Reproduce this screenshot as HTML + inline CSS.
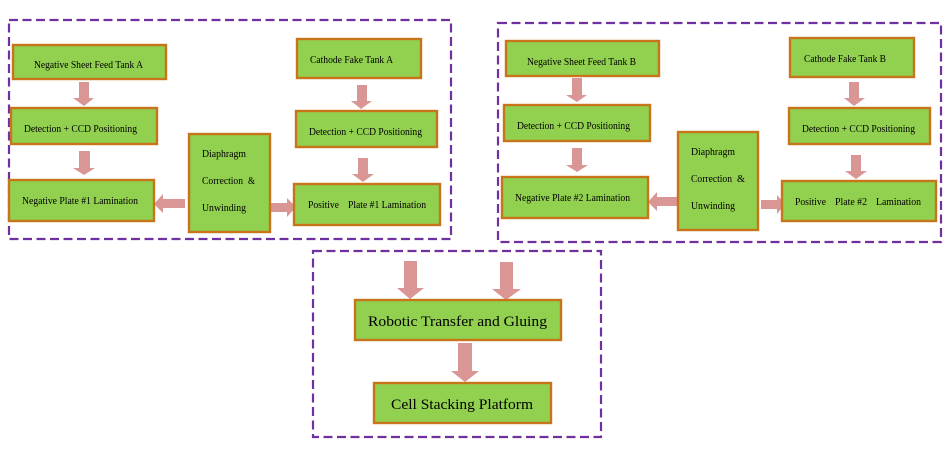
<!DOCTYPE html>
<html>
<head>
<meta charset="utf-8">
<style>
html,body{margin:0;padding:0;background:#fff;width:951px;height:454px;overflow:hidden}
svg{display:block}
text{font-family:"Liberation Serif",serif;font-size:10px;fill:#000}
.l{font-size:15px}
.b{fill:#92D050;stroke:#C8741A;stroke-width:2.4}
.d{fill:none;stroke:#7030A0;stroke-width:2.2;stroke-dasharray:9 4.5}
.a{fill:#D99694}
</style>
</head>
<body>
<svg width="951" height="454" viewBox="0 0 951 454" xmlns="http://www.w3.org/2000/svg">
<rect width="951" height="454" fill="#fff"/>
<!-- dashed groups -->
<rect class="d" x="9" y="20" width="442" height="219"/>
<rect class="d" x="498" y="23" width="443" height="219"/>
<rect class="d" x="313" y="251" width="288" height="186"/>

<!-- arrows group A -->
<polygon class="a" points="79,82 89,82 89,98 94,98 84,106 73,98 79,98"/>
<polygon class="a" points="79,151 90,151 90,168 95,168 84,175 73,168 79,168"/>
<polygon class="a" points="154,204 163,194 163,199 185,199 185,208 163,208 163,213"/>
<polygon class="a" points="296,207 287,198 287,203 271,203 271,212 287,212 287,217"/>
<polygon class="a" points="357,85 367,85 367,101 372,101 361,109 351,101 357,101"/>
<polygon class="a" points="358,158 368,158 368,174 374,174 363,182 352,174 358,174"/>

<!-- arrows group B -->
<polygon class="a" points="572,78 582,78 582,95 587,95 577,102 566,95 572,95"/>
<polygon class="a" points="572,148 582,148 582,165 588,165 577,172 566,165 572,165"/>
<polygon class="a" points="648,202 657,192 657,197 678,197 678,206 657,206 657,211"/>
<polygon class="a" points="785,204 777,195 777,200 761,200 761,209 777,209 777,214"/>
<polygon class="a" points="849,82 859,82 859,98 865,98 854,106 844,98 849,98"/>
<polygon class="a" points="851,155 861,155 861,171 867,171 856,179 845,171 851,171"/>

<!-- arrows bottom -->
<polygon class="a" points="404,261 417,261 417,288 424,288 410,299 397,288 404,288"/>
<polygon class="a" points="500,262 513,262 513,289 521,289 506,300 492,289 500,289"/>
<polygon class="a" points="458,343 472,343 472,371 479,371 465,382 451,371 458,371"/>

<!-- boxes group A -->
<rect class="b" x="13" y="45" width="153" height="34"/>
<rect class="b" x="11" y="108" width="146" height="36"/>
<rect class="b" x="9" y="180" width="145" height="41"/>
<rect class="b" x="189" y="134" width="81" height="98"/>
<rect class="b" x="297" y="39" width="124" height="39"/>
<rect class="b" x="296" y="111" width="141" height="36"/>
<rect class="b" x="294" y="184" width="146" height="41"/>

<!-- boxes group B -->
<rect class="b" x="506" y="41" width="153" height="35"/>
<rect class="b" x="504" y="105" width="146" height="36"/>
<rect class="b" x="502" y="177" width="146" height="41"/>
<rect class="b" x="678" y="132" width="80" height="98"/>
<rect class="b" x="790" y="38" width="124" height="39"/>
<rect class="b" x="789" y="108" width="141" height="36"/>
<rect class="b" x="782" y="181" width="154" height="40"/>

<!-- boxes bottom -->
<rect class="b" x="355" y="300" width="206" height="40"/>
<rect class="b" x="374" y="383" width="177" height="40"/>

<!-- labels group A -->
<text x="34" y="68" textLength="109" lengthAdjust="spacingAndGlyphs">Negative Sheet Feed Tank A</text>
<text x="24" y="132" textLength="113" lengthAdjust="spacingAndGlyphs">Detection + CCD Positioning</text>
<text x="22" y="204" textLength="116" lengthAdjust="spacingAndGlyphs">Negative Plate #1 Lamination</text>
<text x="202" y="157" textLength="44" lengthAdjust="spacingAndGlyphs">Diaphragm</text>
<text x="202" y="184" textLength="41" lengthAdjust="spacingAndGlyphs">Correction</text>
<text x="248" y="184" textLength="7" lengthAdjust="spacingAndGlyphs">&amp;</text>
<text x="202" y="211" textLength="44" lengthAdjust="spacingAndGlyphs">Unwinding</text>
<text x="310" y="63" textLength="83" lengthAdjust="spacingAndGlyphs">Cathode Fake Tank A</text>
<text x="309" y="135" textLength="113" lengthAdjust="spacingAndGlyphs">Detection + CCD Positioning</text>
<text x="308" y="208" textLength="31" lengthAdjust="spacingAndGlyphs">Positive</text>
<text x="348" y="208" textLength="78" lengthAdjust="spacingAndGlyphs">Plate #1 Lamination</text>

<!-- labels group B -->
<text x="527" y="65" textLength="109" lengthAdjust="spacingAndGlyphs">Negative Sheet Feed Tank B</text>
<text x="517" y="129" textLength="113" lengthAdjust="spacingAndGlyphs">Detection + CCD Positioning</text>
<text x="515" y="201" textLength="115" lengthAdjust="spacingAndGlyphs">Negative Plate #2 Lamination</text>
<text x="691" y="155" textLength="44" lengthAdjust="spacingAndGlyphs">Diaphragm</text>
<text x="691" y="182" textLength="41" lengthAdjust="spacingAndGlyphs">Correction</text>
<text x="737" y="182" textLength="8" lengthAdjust="spacingAndGlyphs">&amp;</text>
<text x="691" y="209" textLength="44" lengthAdjust="spacingAndGlyphs">Unwinding</text>
<text x="804" y="62" textLength="82" lengthAdjust="spacingAndGlyphs">Cathode Fake Tank B</text>
<text x="802" y="132" textLength="113" lengthAdjust="spacingAndGlyphs">Detection + CCD Positioning</text>
<text x="795" y="205" textLength="31" lengthAdjust="spacingAndGlyphs">Positive</text>
<text x="835" y="205" textLength="32" lengthAdjust="spacingAndGlyphs">Plate #2</text>
<text x="876" y="205" textLength="45" lengthAdjust="spacingAndGlyphs">Lamination</text>

<!-- labels bottom -->
<text class="l" x="368" y="326" textLength="179" lengthAdjust="spacingAndGlyphs">Robotic Transfer and Gluing</text>
<text class="l" x="391" y="409" textLength="142" lengthAdjust="spacingAndGlyphs">Cell Stacking Platform</text>
</svg>
</body>
</html>
